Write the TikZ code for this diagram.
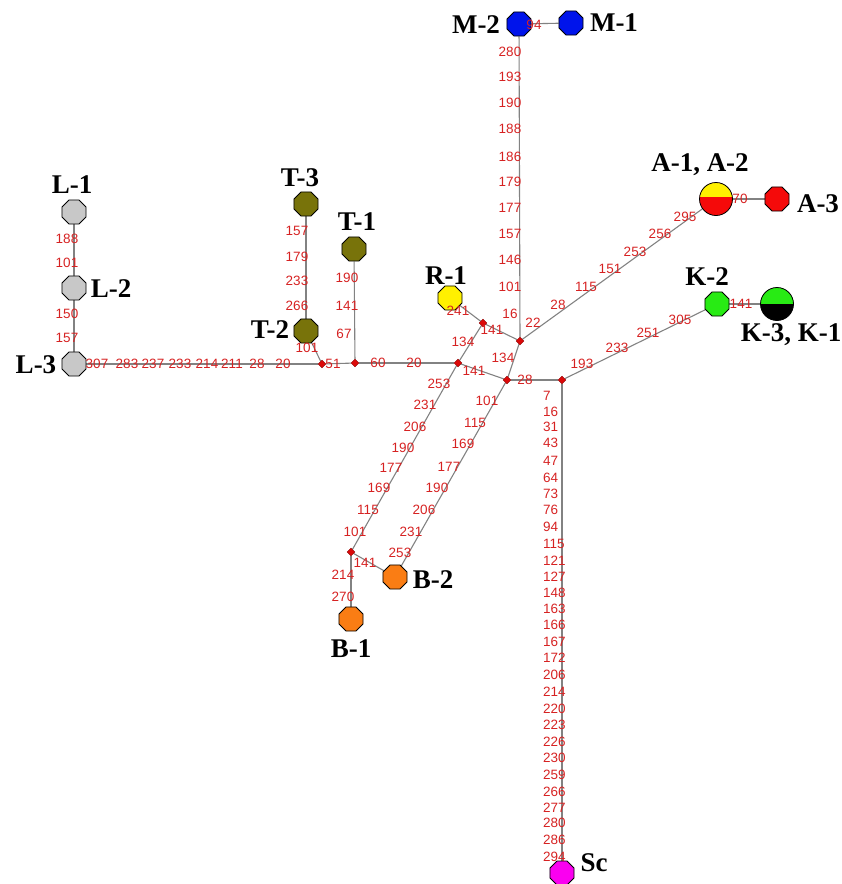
\documentclass[tikz,border=0pt]{standalone}
\usepackage{fontspec}
\setmainfont{Liberation Serif}
\newfontfamily\numfont{Liberation Sans}
\usetikzlibrary{shapes.geometric,backgrounds}
\definecolor{wirecol}{RGB}{130,130,130}
\definecolor{numred}{RGB}{214,34,34}
\definecolor{olive}{RGB}{120,115,10}
\definecolor{lgray}{RGB}{200,200,200}
\definecolor{orng}{RGB}{250,125,20}
\definecolor{mblue}{RGB}{0,20,235}
\definecolor{lgreen}{RGB}{40,235,20}
\definecolor{magn}{RGB}{250,0,240}
\definecolor{ylw}{RGB}{255,240,0}
\definecolor{rd}{RGB}{245,10,10}
\tikzset{
  num/.style={text=numred, font=\numfont\fontsize{13.5}{13.5}\selectfont, inner sep=0pt},
  tag/.style={font=\bfseries\fontsize{27}{27}\selectfont, inner sep=0pt},
  site/.style={regular polygon, regular polygon sides=8, draw=black, line width=0.8pt,
    minimum size=26pt, inner sep=0pt},
  bigsite/.style={circle, draw=black, line width=0.8pt, minimum size=33pt, inner sep=0pt},
  hub/.style={diamond, fill=rd!90!black, draw=red!55!black, line width=0.4pt,
    minimum width=8pt, minimum height=8pt, inner sep=0pt},
  wire/.style={draw=wirecol, line width=1.1pt}
}
\begin{document}
\begin{tikzpicture}[x=1pt,y=-1pt]
\useasboundingbox (0,0) rectangle (842,884);

% sites
\node[site, fill=mblue] (M2) at (519,24) {};
\node[site, fill=mblue] (M1) at (571,23) {};
\node[bigsite, fill=rd,
  path picture={\fill[ylw] (path picture bounding box.north west) rectangle ([yshift=2pt]path picture bounding box.east);}]
  (A12) at (716,199) {};
\node[site, fill=rd] (A3) at (777,199) {};
\node[site, fill=lgreen] (K2) at (717,304) {};
\node[bigsite, fill=black,
  path picture={\fill[lgreen] (path picture bounding box.north west) rectangle (path picture bounding box.east);}]
  (K31) at (777,304) {};
\node[site, fill=ylw] (R1) at (450,298) {};
\node[site, fill=olive] (T1) at (354,249) {};
\node[site, fill=olive] (T3) at (306,204) {};
\node[site, fill=olive] (T2) at (306,331) {};
\node[site, fill=lgray] (L1) at (74,212) {};
\node[site, fill=lgray] (L2) at (74,288) {};
\node[site, fill=lgray] (L3) at (74,364) {};
\node[site, fill=orng] (B2) at (395,577) {};
\node[site, fill=orng] (B1) at (351,619) {};
\node[site, fill=magn] (Sc) at (562,873) {};

% junctions
\node[hub] (J1) at (520,341) {};
\node[hub] (J2) at (483,323) {};
\node[hub] (J3) at (458,363) {};
\node[hub] (J4) at (507,380) {};
\node[hub] (J5) at (562,380) {};
\node[hub] (J6) at (355,363) {};
\node[hub] (J7) at (322,364) {};
\node[hub] (J8) at (351,552) {};

% connectors
\begin{scope}[on background layer]
  \draw[wire] (M2) -- (M1);
  \draw[wire] (M2) -- (J1);
  \draw[wire] (J1) -- (A12);
  \draw[wire] (A12) -- (A3);
  \draw[wire] (J1) -- (J2);
  \draw[wire] (R1) -- (J2);
  \draw[wire] (J2) -- (J3);
  \draw[wire] (J1) -- (J4);
  \draw[wire] (J3) -- (J4);
  \draw[wire] (J4) -- (J5);
  \draw[wire] (J5) -- (K2);
  \draw[wire] (K2) -- (K31);
  \draw[wire] (J5) -- (Sc);
  \draw[wire] (J3) -- (J6);
  \draw[wire] (J6) -- (T1);
  \draw[wire] (J6) -- (J7);
  \draw[wire] (J7) -- (T2);
  \draw[wire] (T2) -- (T3);
  \draw[wire] (J7) -- (L3);
  \draw[wire] (L3) -- (L2);
  \draw[wire] (L2) -- (L1);
  \draw[wire] (J3) -- (J8);
  \draw[wire] (J8) -- (B2);
  \draw[wire] (J8) -- (B1);
  \draw[wire] (J4) -- (B2);
\end{scope}

% site names
\node[tag] (tM2) at (476,25) {M-2};
\node[tag] (tM1) at (614,23) {M-1};
\node[tag] (tA12) at (700,165) {A-1, A-2};
\node[tag] (tA3) at (818,204) {A-3};
\node[tag] (tK2) at (707,277) {K-2};
\node[tag] (tK31) at (791,335) {K-3, K-1};
\node[tag] (tR1) at (446,276) {R-1};
\node[tag] (tT1) at (357,222) {T-1};
\node[tag] (tT3) at (300,178) {T-3};
\node[tag] (tT2) at (270,330) {T-2};
\node[tag] (tL1) at (72,185) {L-1};
\node[tag] (tL2) at (111,289) {L-2};
\node[tag] (tL3) at (36,365) {L-3};
\node[tag] (tB2) at (433,580) {B-2};
\node[tag] (tB1) at (351,649) {B-1};
\node[tag] (tSc) at (594,863) {Sc};

% distances along the M trunk
\foreach \t/\y [count=\k] in {280/52,193/77,190/103,188/129,186/157,179/182,177/208,157/234,146/260,101/287,16/314}
  \node[num] (m\k) at (510,\y) {\t};
\node[num] (m94) at (534,25) {94};

% distances along the Sc trunk
\foreach \t/\y [count=\k] in {7/396,16/412,31/427,43/443,47/461,64/478,73/494,76/510,94/527,115/544,121/561,127/577,148/593,163/609,166/625,167/642,172/658,206/675,214/692,220/709,223/725,226/742,230/758,259/775,266/792,277/808,280/823,286/840,294/857}
  \node[num, anchor=west] (s\k) at (543,\y) {\t};

% A branch
\foreach \t/\x/\y [count=\k] in {22/533/323,28/558/305,115/586/287,151/610/269,253/635/252,256/660/234,295/685/217,70/740/199}
  \node[num] (a\k) at (\x,\y) {\t};

% K branch
\foreach \t/\x/\y [count=\k] in {193/582/364,233/617/348,251/648/333,305/680/320,141/741/304}
  \node[num] (k\k) at (\x,\y) {\t};

% central junctions
\foreach \t/\x/\y [count=\k] in {141/492/330,241/458/311,134/463/342,141/474/371,134/503/358,28/525/380,20/414/363,60/378/363,51/333/364}
  \node[num] (c\k) at (\x,\y) {\t};

% T branch
\foreach \t/\x/\y [count=\k] in {190/347/278,141/347/306,67/344/334,157/297/231,179/297/257,233/297/281,266/297/306,101/307/348}
  \node[num] (t\k) at (\x,\y) {\t};

% L branch
\foreach \t/\x/\y [count=\k] in {188/67/239,101/67/263,150/67/314,157/67/338,307/97/364,283/127/364,237/153/364,233/180/364,214/207/364,211/232/364,28/257/364,20/283/364}
  \node[num] (l\k) at (\x,\y) {\t};

% B branches
\foreach \t/\x/\y [count=\k] in {253/439/384,231/425/405,206/415/427,190/403/448,177/391/468,169/379/488,115/368/510,101/355/532,141/365/563,214/343/575,270/343/597,101/487/401,115/475/423,169/463/444,177/449/467,190/437/488,206/424/510,231/411/532,253/400/553}
  \node[num] (b\k) at (\x,\y) {\t};
\end{tikzpicture}
\end{document}
